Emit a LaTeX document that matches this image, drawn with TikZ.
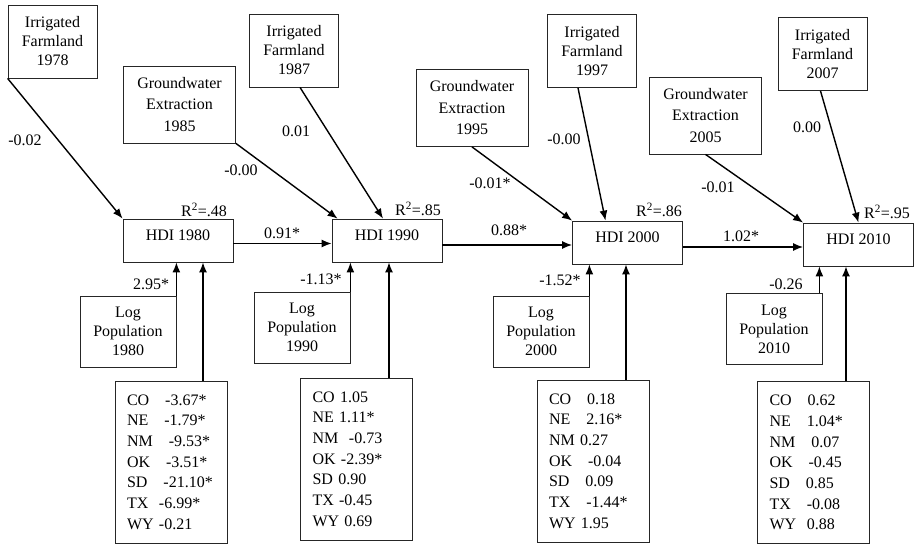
\documentclass[tikz,border=0pt]{standalone}
\usepackage{fontspec}
\setmainfont{Liberation Serif}
\usetikzlibrary{arrows.meta}
\begin{document}
\begin{tikzpicture}[x=1pt,y=-1pt,
    every node/.style={font=\fontsize{16}{19}\selectfont},
    var/.style={draw=black!85,line width=0.8pt,align=center,inner sep=0pt},
    farm/.style={var,minimum width=89pt,minimum height=73pt},
    water/.style={var,minimum width=112pt,minimum height=77pt,font=\fontsize{16}{21.5}\selectfont},
    hdi/.style={var,minimum width=110pt,minimum height=43pt,text depth=10pt},
    logpop/.style={var,minimum width=96pt,minimum height=71pt},
    states/.style={var,minimum width=112pt,minimum height=162pt,text width=88pt,align=left,font=\fontsize{16}{20.7}\selectfont},
    coef/.style={inner sep=0pt}]
      \useasboundingbox (0,0) rectangle (914,546);
      \draw
        (52.5,41.5) node[farm] (if78){Irrigated\\Farmland\\1978}
        (294,50.5) node[farm] (if87){Irrigated\\Farmland\\1987}
        (592,51) node[farm] (if97){Irrigated\\Farmland\\1997}
        (822.5,54) node[farm] (if07){Irrigated\\Farmland\\2007}
        (179.5,104.5) node[water] (gw85){Groundwater\\Extraction\\1985}
        (472,108) node[water] (gw95){Groundwater\\Extraction\\1995}
        (705.5,115.5) node[water] (gw05){Groundwater\\Extraction\\2005}
        (178,240.5) node[hdi] (hdi80){HDI 1980}
        (387,240.5) node[hdi] (hdi90){HDI 1990}
        (627.5,242.5) node[hdi] (hdi00){HDI 2000}
        (858.5,244.5) node[hdi] (hdi10){HDI 2010}
        (128,331.5) node[logpop] (lp80){Log\\Population\\1980}
        (302,327.5) node[logpop] (lp90){Log\\Population\\1990}
        (541,331.5) node[logpop] (lp00){Log\\Population\\2000}
        (774,329) node[logpop] (lp10){Log\\Population\\2010}
        (171,462) node[states] (st80){CO~~~-3.67*\\NE~~~-1.79*\\NM~~~-9.53*\\OK~~~-3.51*\\SD~~~-21.10*\\TX~~-6.99*\\WY~-0.21}
        (356.5,459) node[states] (st90){CO~1.05\\NE~1.11*\\NM~~-0.73\\OK~-2.39*\\SD~0.90\\TX~-0.45\\WY~0.69}
        (593,461) node[states] (st00){CO~~~0.18\\NE~~~2.16*\\NM~0.27\\OK~~~-0.04\\SD~~~0.09\\TX~~~-1.44*\\WY~1.95}
        (813.5,462.5) node[states] (st10){CO~~~0.62\\NE~~~1.04*\\NM~~~0.07\\OK~~~-0.45\\SD~~~0.85\\TX~~~-0.08\\WY~~0.88};
      \draw
        (25,140) node[coef] (c1){-0.02}
        (241,170) node[coef] (c2){-0.00}
        (296,131) node[coef] (c3){0.01}
        (490,183) node[coef] (c4){-0.01*}
        (564,139) node[coef] (c5){-0.00}
        (718,187) node[coef] (c6){-0.01}
        (807,127) node[coef] (c7){0.00}
        (204,210) node[coef] (r1){R\textsuperscript{2}=.48}
        (418,209) node[coef] (r2){R\textsuperscript{2}=.85}
        (659,210) node[coef] (r3){R\textsuperscript{2}=.86}
        (887,212) node[coef] (r4){R\textsuperscript{2}=.95}
        (282,233) node[coef] (h1){0.91*}
        (509,230) node[coef] (h2){0.88*}
        (741,236) node[coef] (h3){1.02*}
        (151,284) node[coef] (p1){2.95*}
        (321,279) node[coef] (p2){-1.13*}
        (560,280) node[coef] (p3){-1.52*}
        (786,284) node[coef] (p4){-0.26};
      \coordinate (a1) at ([yshift=-3pt]hdi80.east);
      \coordinate (a2) at ([yshift=-4.5pt]hdi90.east);
      \coordinate (a3) at ([yshift=-4.5pt]hdi00.east);
      \coordinate (l4) at ([xshift=-3pt]lp10.north east);
      \coordinate (s1) at ([xshift=32pt]st80.north);
      \coordinate (s2) at ([xshift=32.5pt]st90.north);
      \coordinate (s3) at ([xshift=33pt]st00.north);
      \coordinate (s4) at ([xshift=32.5pt]st10.north);
      \begin{scope}[-{Latex[length=10pt,width=8pt]},line width=1.4pt]
        \draw (if78.south west) to (hdi80.north west);
        \draw (gw85.south east) to ([xshift=6pt]hdi90.north west);
        \draw ([xshift=6pt]if87.south) to ([xshift=-4pt]hdi90.north);
        \draw (gw95.south) to (hdi00.north west);
        \draw ([xshift=-14pt]if97.south) to ([xshift=-22pt]hdi00.north);
        \draw (gw05.south) to (hdi10.north west);
        \draw ([xshift=-2pt]if07.south) to (hdi10.north);
        \draw (a1) to (a1 -| hdi90.west);
        \draw (a2) to (a2 -| hdi00.west);
        \draw (a3) to (a3 -| hdi10.west);
        \draw (lp80.north east) to (lp80.north east |- hdi80.south);
        \draw (lp90.north east) to (lp90.north east |- hdi90.south);
        \draw (lp00.north east) to (lp00.north east |- hdi00.south);
        \draw (l4) to (l4 |- hdi10.south);
        \draw (s1) to (s1 |- hdi80.south);
        \draw (s2) to (s2 |- hdi90.south);
        \draw (s3) to (s3 |- hdi00.south);
        \draw (s4) to (s4 |- hdi10.south);
      \end{scope}
    \end{tikzpicture}
\end{document}
